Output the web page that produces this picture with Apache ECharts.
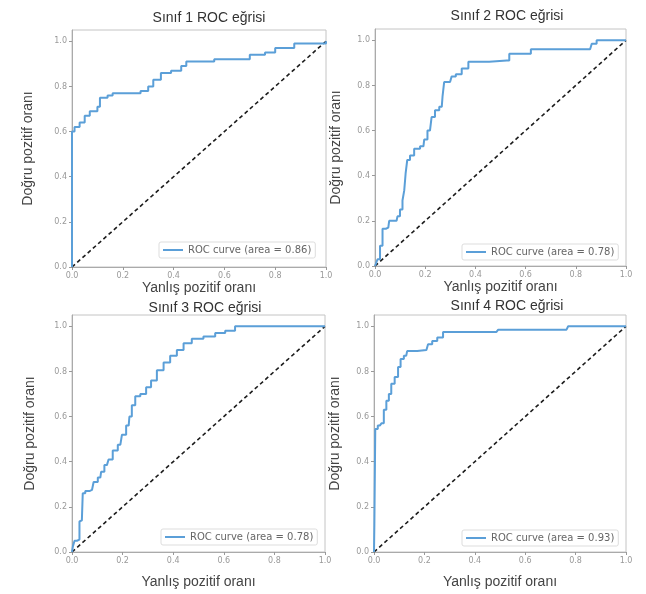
<!DOCTYPE html>
<html>
<head>
<meta charset="utf-8">
<script src="https://cdn.jsdelivr.net/npm/echarts@6/dist/echarts.min.js"></script>
<style>
  html, body { margin: 0; padding: 0; background: #fff; }
  #main { width: 646px; height: 594px; }
</style>
</head>
<body>
<div id="main"></div>
<script>
// ROC curve corner points
var fpr1 = [0, 0, 0.01, 0.01, 0.03, 0.03, 0.05, 0.05, 0.07, 0.07, 0.10, 0.10, 0.11, 0.11, 0.14, 0.14, 0.16, 0.16, 0.27, 0.27, 0.30, 0.30, 0.32, 0.32, 0.35, 0.35, 0.39, 0.39, 0.43, 0.43, 0.45, 0.45, 0.56, 0.56, 0.70, 0.70, 0.76, 0.76, 0.80, 0.80, 0.875, 0.875, 1.0, 1.0];
var tpr1 = [0, 0.60, 0.60, 0.62, 0.62, 0.64, 0.64, 0.67, 0.67, 0.69, 0.69, 0.71, 0.71, 0.75, 0.75, 0.76, 0.76, 0.77, 0.77, 0.78, 0.78, 0.80, 0.80, 0.83, 0.83, 0.86, 0.86, 0.87, 0.87, 0.89, 0.89, 0.91, 0.91, 0.92, 0.92, 0.94, 0.94, 0.95, 0.95, 0.97, 0.97, 0.99, 0.99, 1.0];

var fpr2 = [0, 0.007, 0.013, 0.027, 0.033, 0.053, 0.06, 0.086, 0.093, 0.106, 0.113, 0.12, 0.124, 0.133, 0.146, 0.166, 0.193, 0.199, 0.219, 0.232, 0.246, 0.266, 0.272, 0.279, 0.299, 0.312, 0.332, 0.359, 0.385, 0.525, 0.545, 0.611, 0.631, 0.857, 0.87, 0.896, 1.0];
var tpr2 = [0, 0.01, 0.03, 0.09, 0.165, 0.17, 0.20, 0.20, 0.22, 0.25, 0.29, 0.335, 0.41, 0.47, 0.49, 0.52, 0.53, 0.56, 0.60, 0.66, 0.69, 0.705, 0.75, 0.815, 0.815, 0.84, 0.85, 0.875, 0.905, 0.91, 0.94, 0.94, 0.96, 0.96, 0.985, 1.0, 1.0];

var fpr3 = [0, 0.007, 0.013, 0.026, 0.033, 0.039, 0.046, 0.059, 0.079, 0.092, 0.112, 0.118, 0.138, 0.151, 0.171, 0.191, 0.204, 0.224, 0.23, 0.243, 0.257, 0.283, 0.303, 0.322, 0.349, 0.375, 0.401, 0.428, 0.454, 0.493, 0.546, 0.586, 0.625, 0.664, 1.0];
var tpr3 = [0, 0.025, 0.05, 0.055, 0.135, 0.14, 0.26, 0.27, 0.275, 0.31, 0.33, 0.355, 0.385, 0.41, 0.45, 0.475, 0.52, 0.56, 0.60, 0.65, 0.69, 0.70, 0.73, 0.76, 0.805, 0.84, 0.87, 0.895, 0.925, 0.945, 0.955, 0.97, 0.98, 1.0, 1.0];

var fpr4 = [0, 0.003, 0.007, 0.023, 0.036, 0.042, 0.056, 0.062, 0.075, 0.089, 0.102, 0.109, 0.128, 0.135, 0.208, 0.221, 0.241, 0.261, 0.287, 0.486, 0.5, 0.764, 0.777, 1.0];
var tpr4 = [0, 0.125, 0.545, 0.56, 0.57, 0.63, 0.67, 0.70, 0.745, 0.775, 0.82, 0.855, 0.87, 0.89, 0.895, 0.92, 0.935, 0.95, 0.975, 0.975, 0.985, 0.985, 1.0, 1.0];

var titles = ['Sınıf 1 ROC eğrisi', 'Sınıf 2 ROC eğrisi', 'Sınıf 3 ROC eğrisi', 'Sınıf 4 ROC eğrisi'];
var areas = ['0.86', '0.78', '0.78', '0.93'];
var tickValues = [0, 0.2, 0.4, 0.6, 0.8, 1.0];
var diagX = [0, 1];
var diagY = [0, 1];

var chartDom = document.getElementById('main');
var myChart = echarts.init(chartDom);

function pairs(xs, ys) {
	var out = [];
	for (var i = 0; i < xs.length; i++) {
		out.push([xs[i], ys[i]]);
	}
	return out;
}

var curves = [pairs(fpr1, tpr1), pairs(fpr2, tpr2), pairs(fpr3, tpr3), pairs(fpr4, tpr4)];
// class 1 already has its corners listed; the others are drawn as stairs
var steps = [false, 'middle', 'middle', 'middle'];

// panel boxes in pixels
var grids = [
	{ left: 72, top: 30, width: 254, height: 237 },
	{ left: 375, top: 29, width: 251, height: 237 },
	{ left: 72, top: 315, width: 253, height: 237 },
	{ left: 374, top: 315, width: 252, height: 237 }
];
var titlePos = [[204, 6], [502, 4], [200, 296], [502, 294]];
var xNameGap = [11, 11, 23, 23];
var yNameGap = [37, 32, 35, 32];
var legendPos = [
	{ left: 159, top: 242 },
	{ left: 462, top: 244 },
	{ left: 161, top: 529 },
	{ left: 462, top: 530 }
];

var option = {
	backgroundColor: '#fff',
	animation: false,
	title: [],
	grid: [],
	xAxis: [],
	yAxis: [],
	legend: [],
	series: []
};

for (var i = 0; i < 4; i++) {
	var g = grids[i];
	var name = 'ROC curve (area = ' + areas[i] + ')';

	option.title.push({
		text: titles[i],
		left: titlePos[i][0],
		top: titlePos[i][1],
		textAlign: 'center',
		textStyle: { fontFamily: 'Liberation Sans', fontSize: 14, fontWeight: 'normal', color: '#333' }
	});

	option.grid.push({
		left: g.left, top: g.top, width: g.width, height: g.height,
		show: true, borderColor: '#c4c4c4', borderWidth: 1, backgroundColor: '#fff'
	});

	option.xAxis.push({
		type: 'value', gridIndex: i, min: 0, max: 1,
		name: 'Yanlış pozitif oranı', nameLocation: 'middle', nameGap: xNameGap[i],
		nameTextStyle: { fontFamily: 'Liberation Sans', fontSize: 14, color: '#444' },
		axisLine: { show: true, lineStyle: { color: '#aaa' } },
		axisTick: { show: true, length: 3, customValues: tickValues, lineStyle: { color: '#999' } },
		axisLabel: {
			customValues: tickValues, fontSize: 8, color: '#999', margin: 5,
			fontFamily: 'DejaVu Sans',
			formatter: function(v) { return v.toFixed(1); }
		},
		splitLine: { show: false }
	});

	option.yAxis.push({
		type: 'value', gridIndex: i, min: 0, max: 1.05,
		name: 'Doğru pozitif oranı', nameLocation: 'middle', nameGap: yNameGap[i],
		nameTextStyle: { fontFamily: 'Liberation Sans', fontSize: 14, color: '#444' },
		axisLine: { show: true, lineStyle: { color: '#aaa' } },
		axisTick: { show: true, length: 3, customValues: tickValues, lineStyle: { color: '#999' } },
		axisLabel: {
			customValues: tickValues, fontSize: 8, color: '#999', margin: 5,
			fontFamily: 'DejaVu Sans',
			formatter: function(v) { return v.toFixed(1); }
		},
		splitLine: { show: false }
	});

	option.legend.push({
		left: legendPos[i].left, top: legendPos[i].top,
		data: [name],
		icon: 'rect', itemWidth: 20, itemHeight: 2,
		padding: [3, 4, 3, 4], itemGap: 5,
		borderColor: '#ddd', borderWidth: 1, borderRadius: 2, backgroundColor: '#fff',
		textStyle: { fontSize: 10, color: '#666', fontFamily: 'DejaVu Sans' },
		selectedMode: false
	});

	option.series.push({
		type: 'line', name: name,
		xAxisIndex: i, yAxisIndex: i,
		data: curves[i],
		step: steps[i],
		symbol: 'none',
		color: '#5b9fd8',
		lineStyle: { color: '#5b9fd8', width: 2 },
		z: 3
	});

	option.series.push({
		type: 'line', name: 'diag' + i,
		xAxisIndex: i, yAxisIndex: i,
		data: pairs(diagX, diagY),
		symbol: 'none',
		lineStyle: { color: '#1c1c1c', width: 1.6, type: [4, 3] },
		z: 2
	});
}

myChart.setOption(option);
</script>
</body>
</html>
